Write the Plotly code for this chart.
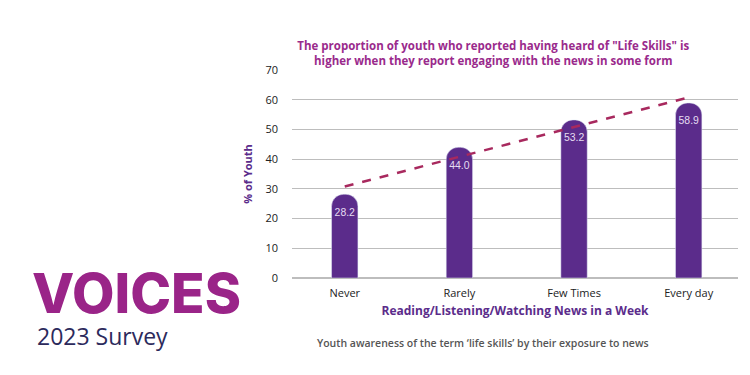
import plotly.graph_objects as go

categories = ["Never", "Rarely", "Few Times", "Every day"]
values = [28.2, 44.0, 53.2, 58.9]
value_labels = ["28.2", "44.0", "53.2", "58.9"]
trend_x = ["Never", "Every day"]
trend_y = [30.8, 60.8]
y_ticks = [0, 10, 20, 30, 40, 50, 60, 70]

BAR = "#5B2C8B"
TITLE = "#9A2A8C"
AXTITLE = "#5B2C8B"

fig = go.Figure()
fig.add_trace(go.Bar(
    x=categories, y=values, text=value_labels,
    textposition="inside", insidetextanchor="end", textangle=0,
    textfont=dict(color="#E6DDF2", size=11, family="Liberation Sans"),
    marker=dict(color=BAR, cornerradius=12),
    width=0.23, hoverinfo="skip", showlegend=False,
))
fig.add_trace(go.Scatter(
    x=trend_x, y=trend_y, mode="lines",
    line=dict(color="#A8295E", width=2.5, dash="dash"),
    hoverinfo="skip", showlegend=False,
))

fig.update_layout(
    width=742, height=367,
    margin=dict(l=284, r=12, t=62, b=97),
    paper_bgcolor="white", plot_bgcolor="white",
    font=dict(family="Open Sans", color="#222"),
    title=dict(
        text="<b>The proportion of youth who reported having heard of \"Life Skills\" is<br>higher when they report engaging with the news in some form</b>",
        x=0.654, xanchor="center", y=0.8856, yanchor="middle",
        font=dict(family="Open Sans", size=11.5, color=TITLE),
    ),
    xaxis=dict(
        type="category", range=[-0.46, 3.43],
        showgrid=False, zeroline=False, showline=False,
        ticks="", tickfont=dict(size=11, color="#222", family="Open Sans"), ticklabelstandoff=7,
        title=dict(text="<b>Reading/Listening/Watching News in a Week</b>",
                   font=dict(size=12, color=AXTITLE, family="Open Sans"), standoff=7),
    ),
    yaxis=dict(
        range=[0, 70], tickvals=y_ticks, showgrid=True, gridcolor="#BDBDBD", gridwidth=1,
        zeroline=True, zerolinecolor="#BDBDBD", showline=False, ticks="",
        tickfont=dict(size=11, color="#222", family="Open Sans"), ticklabelstandoff=13,
        title=dict(text="<b>% of Youth</b>", font=dict(size=11, color=AXTITLE, family="Open Sans"), standoff=10),
    ),
)

fig.add_annotation(
    text="Youth awareness of the term \u2018life skills\u2019 by their exposure to news",
    xref="paper", yref="paper", x=0.429, y=-0.3125, xanchor="center", yanchor="middle",
    showarrow=False, font=dict(size=10.5, color="#555", family="Open Sans", weight=600),
)
fig.add_annotation(
    text="VOICES", xref="paper", yref="paper", x=-0.588, y=-0.07, xanchor="left", yanchor="middle",
    showarrow=False, font=dict(size=55, color="#9A2488", family="Inter", weight=800),
)
fig.add_annotation(
    text="2023 Survey", xref="paper", yref="paper", x=-0.576, y=-0.281, xanchor="left", yanchor="middle",
    showarrow=False, font=dict(size=23, color="#2C2A5C", family="Open Sans"),
)

fig.write_html("out.html")
